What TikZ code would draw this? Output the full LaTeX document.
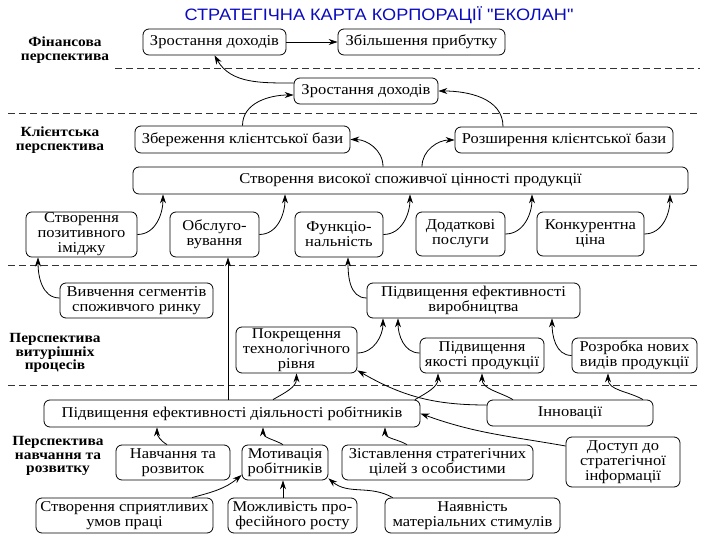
\documentclass[tikz,border=0pt]{standalone}
\usepackage{fontspec}
\setmainfont{Liberation Serif}[FakeStretch=1.1]
\newfontfamily\titlefont{Liberation Sans}[FakeStretch=1.1, Ligatures=TeXOff]
\usetikzlibrary{arrows.meta}
\definecolor{titleblue}{RGB}{10,10,190}

\begin{document}
\begin{tikzpicture}[x=1pt, y=1pt,
    box/.style={draw, line width=0.8pt, rounded corners=6pt, align=center, inner sep=1pt, font=\fontsize{15}{15}\selectfont},
    bx/.style 2 args={box, minimum width=#1pt, minimum height=#2pt},
    lab/.style={align=center, font=\fontsize{14}{13.5}\selectfont\bfseries},
    arr/.style={-{Stealth[length=9pt, width=6pt]}, line width=0.8pt},
    sep/.style={dash pattern=on 7pt off 4pt, line width=1pt, black!80}]
\useasboundingbox (0,0) rectangle (720,540);
\node (title) at (379,525) {\titlefont\fontsize{16.5}{17}\selectfont\color{titleblue}СТРАТЕГІЧНА КАРТА КОРПОРАЦІЇ "ЕКОЛАН"};
\node[lab] (finlab) at (65,490) {Фінансова\\перспектива};
\node[lab] (clientlab) at (60,400) {Клієнтська\\перспектива};
\node[lab] (proclab) at (55,187) {Перспектива\\витурішніх\\процесів};
\node[lab] (learnlab) at (58,84) {Перспектива\\навчання та\\розвитку};
\draw[sep] (115,471) -- (700,471);
\draw[sep] (8,426) -- (700,426);
\draw[sep] (8,274) -- (700,274);
\draw[sep] (8,154) -- (700,154);
\node[bx={143}{26}] (fin1) at (214.5,498) {Зростання доходів};
\node[bx={167}{26}] (fin2) at (421.5,498) {Збільшення прибутку};
\node[bx={144}{26}] (rev) at (366,449) {Зростання доходів};
\node[bx={215}{27}] (keep) at (242.5,400.5) {Збереження клієнтської бази};
\node[bx={218}{26}] (grow) at (564,400) {Розширення клієнтської бази};
\node[bx={555}{27}] (value) at (410.5,359.5) {Створення високої споживчої цінності продукції};
\node[bx={111}{45}] (image) at (81.5,305.5) {Створення\\позитивного\\іміджу};
\node[bx={89}{45}] (service) at (214.5,305.5) {Обслуго-\\вування};
\node[bx={88}{45}] (func) at (339,305.5) {Функціо-\\нальність};
\node[bx={89}{44}] (extra) at (460.5,306) {Додаткові\\послуги};
\node[bx={107}{44}] (price) at (590.5,306) {Конкурентна\\ціна};
\node[bx={153}{35}] (segm) at (136.5,239.5) {Вивчення сегментів\\споживчого ринку};
\node[bx={213}{35}] (prod) at (473.5,239.5) {Підвищення ефективності\\виробництва};
\node[bx={121}{46}] (tech) at (296.5,190) {Покрещення\\технологічного\\рівня};
\node[bx={124}{35}] (qual) at (482,184.5) {Підвищення\\якості продукції};
\node[bx={125}{35}] (newp) at (634.5,184.5) {Розробка нових\\видів продукції};
\node[bx={376}{27}] (staff) at (232,126.5) {Підвищення ефективності діяльності робітників};
\node[bx={166}{26}] (innov) at (570,127) {Інновації};
\node[bx={114}{35}] (train) at (173,77.5) {Навчання та\\розвиток};
\node[bx={86}{35}] (motiv) at (285,77.5) {Мотивація\\робітників};
\node[bx={191}{35}] (goals) at (437.5,77.5) {Зіставлення стратегічних\\цілей з особистими};
\node[bx={114}{50}] (access) at (623,78) {Доступ до\\стратегічної\\інформації};
\node[bx={177}{35}] (cond) at (124.5,24.5) {Створення сприятливих\\умов праці};
\node[bx={129}{35}] (career) at (292.5,24.5) {Можливість про-\\фесійного росту};
\node[bx={175}{35}] (stim) at (472.5,24.5) {Наявність\\матеріальних стимулів};
\draw[arr] (fin1) -- (fin2);
\draw[arr] ([yshift=8pt]rev.west) to[out=180,in=-60] (fin1.south);
\draw[arr] (keep.north) to[out=90,in=180] ([yshift=-4pt]rev.west);
\draw[arr] ([xshift=-61pt]grow.north) to[out=90,in=0] (rev.east);
\draw[arr] ([xshift=-27.5pt]value.north) to[out=90,in=0] (keep.east);
\draw[arr] ([xshift=11.5pt]value.north) to[out=90,in=180] (grow.west);
\draw[arr] (image.east) to[out=0,in=-90] ([xshift=-247.5pt]value.south);
\draw[arr] (service.east) to[out=0,in=-90] ([xshift=-125.5pt]value.south);
\draw[arr] (func.east) to[out=0,in=-90] ([xshift=-0.5pt]value.south);
\draw[arr] (extra.east) to[out=0,in=-90] ([xshift=121.5pt]value.south);
\draw[arr] (price.east) to[out=0,in=-90] ([xshift=259.5pt]value.south);
\draw[arr] ([yshift=2.5pt]segm.west) to[out=180,in=-90] ([xshift=-43.5pt]image.south);
\draw[arr] ([yshift=2.5pt]prod.west) to[out=180,in=-90] ([xshift=9pt]func.south);
\coordinate (up) at ([xshift=13.5pt]service.south);
\draw[arr] (staff.north -| up) -- (up);
\draw[arr] ([yshift=-3pt]tech.east) to[out=0,in=-90] ([xshift=-90.5pt]prod.south);
\draw[arr] ([yshift=2.5pt]qual.west) to[out=180,in=-90] ([xshift=-75.5pt]prod.south);
\draw[arr] (newp.west) to[out=180,in=-90] ([xshift=78.5pt]prod.south);
\draw[arr] ([xshift=41pt]staff.north) to[out=30,in=-90] (tech.south);
\draw[arr] ([xshift=183pt]staff.north) to[out=30,in=-90] ([xshift=-44pt]qual.south);
\draw[arr] ([yshift=8pt]innov.west) to[out=180,in=-30] ([yshift=3pt]tech.south east);
\draw[arr] ([xshift=-57pt]innov.north) to[out=150,in=-90] (qual.south);
\draw[arr] ([xshift=73pt]innov.north) to[out=150,in=-90] ([xshift=-26.5pt]newp.south);
\draw[arr] ([xshift=-6pt]train.north) to[out=150,in=-90] ([xshift=-75pt]staff.south);
\draw[arr] ([xshift=-2pt]motiv.north) to[out=150,in=-90] ([xshift=31pt]staff.south);
\draw[arr] ([xshift=-30.5pt]goals.north) to[out=150,in=-90] ([xshift=153pt]staff.south);
\draw[arr] ([yshift=16pt]access.west) to[out=170,in=-20] (staff.east);
\draw[arr] ([xshift=67.5pt]cond.north) to[out=15,in=-140] ([yshift=-12.5pt]motiv.west);
\coordinate (up2) at ([xshift=-2pt]motiv.south);
\draw[arr] (career.north -| up2) -- (up2);
\draw[arr] ([xshift=8pt]stim.north west) to[out=150,in=-40] ([yshift=2pt]motiv.south east);
\end{tikzpicture}
\end{document}
